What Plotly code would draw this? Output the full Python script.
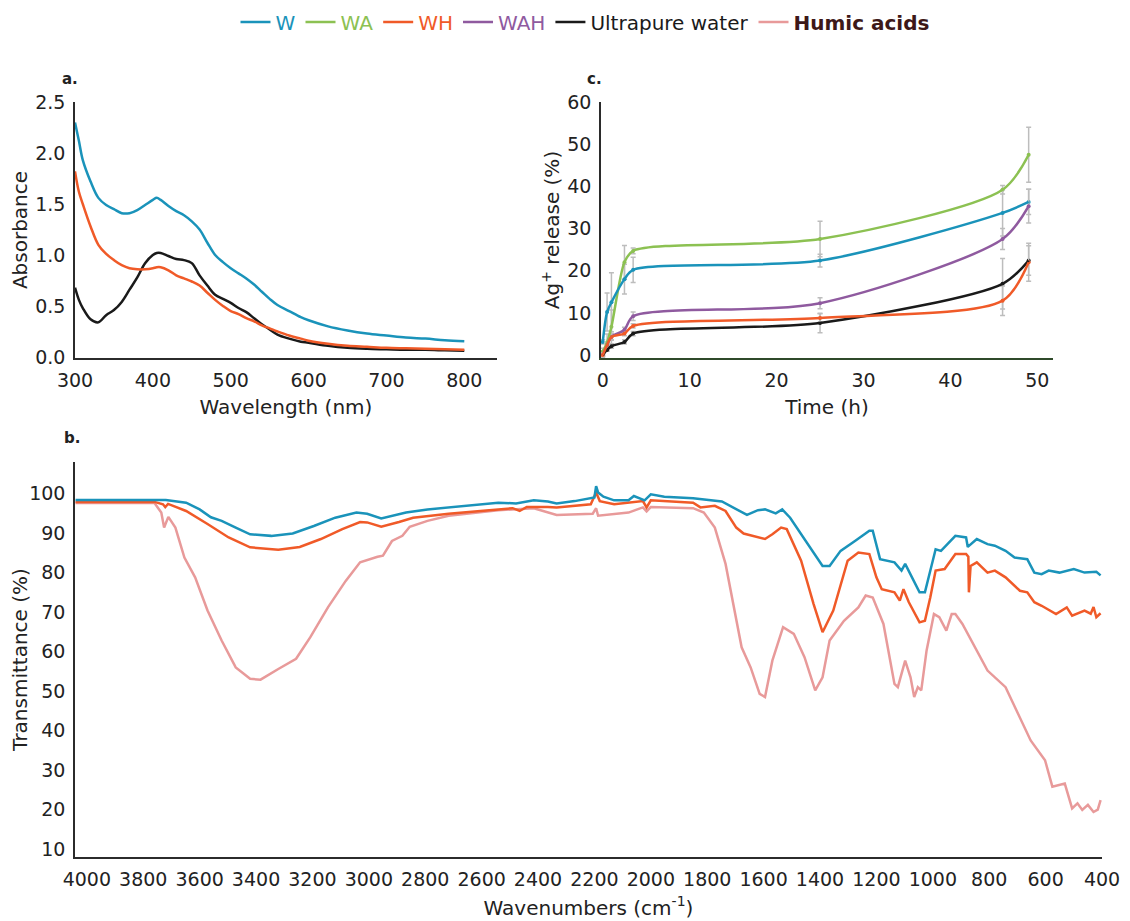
import plotly.graph_objects as go

# ---------------- Panel a: UV-vis absorbance ----------------
nm = [300, 305, 310, 320, 330, 340, 350, 360, 370, 380, 390, 400, 405, 410, 420, 430, 440, 450,
      460, 470, 480, 490, 500, 510, 520, 530, 540, 550, 560, 575, 590, 600, 625, 650, 675, 700,
      725, 750, 775, 800]
abs_W = [2.30, 2.12, 1.93, 1.72, 1.56, 1.49, 1.45, 1.41, 1.41, 1.44, 1.49, 1.54, 1.56, 1.54, 1.48,
         1.43, 1.39, 1.33, 1.25, 1.12, 1.00, 0.93, 0.87, 0.82, 0.77, 0.71, 0.64, 0.57, 0.51, 0.45,
         0.39, 0.36, 0.30, 0.26, 0.23, 0.21, 0.19, 0.18, 0.165, 0.155]
abs_WH = [1.82, 1.62, 1.50, 1.28, 1.10, 1.01, 0.95, 0.90, 0.87, 0.86, 0.86, 0.87, 0.88, 0.88, 0.85,
          0.80, 0.77, 0.74, 0.70, 0.63, 0.56, 0.50, 0.45, 0.42, 0.38, 0.35, 0.31, 0.28, 0.25, 0.21,
          0.18, 0.16, 0.13, 0.11, 0.10, 0.09, 0.085, 0.08, 0.075, 0.07]
abs_UW = [0.68, 0.56, 0.48, 0.37, 0.34, 0.41, 0.46, 0.54, 0.66, 0.78, 0.92, 1.00, 1.02, 1.02, 0.99,
          0.96, 0.95, 0.92, 0.80, 0.70, 0.61, 0.57, 0.53, 0.48, 0.44, 0.38, 0.32, 0.27, 0.22, 0.18,
          0.15, 0.14, 0.11, 0.09, 0.08, 0.075, 0.07, 0.07, 0.065, 0.06]

# ---------------- Panel c: Ag+ release ----------------
time_h = [0, 0.5, 1, 2.5, 3.5, 25, 46, 49]
rel_W = [3.1, 10.2, 12.5, 18.0, 20.2, 22.4, 33.7, 36.3]
rel_WA = [0.8, 3.0, 6.7, 22.0, 24.7, 27.5, 39.2, 47.5]
rel_WH = [0.0, 2.4, 4.3, 5.1, 6.9, 8.8, 12.9, 22.0]
rel_WAH = [0.0, 2.4, 4.3, 6.0, 9.2, 12.3, 27.5, 35.3]
rel_UW = [0.0, 1.2, 2.1, 3.1, 5.1, 7.6, 16.9, 22.4]
err_W = [0.5, 4.5, 7.0, 3.5, 3.0, 1.5, 5.5, 3.0]
err_WA = [0.8, 2.0, 4.0, 4.0, 0.7, 4.2, 1.0, 6.5]
err_WH = [0.3, 0.5, 0.7, 0.5, 0.5, 1.0, 3.5, 4.5]
err_WAH = [0.5, 0.5, 0.8, 0.6, 1.0, 1.3, 2.5, 4.0]
err_UW = [0.3, 0.3, 0.5, 0.5, 0.5, 2.3, 6.0, 3.5]

# ---------------- Panel b: FTIR transmittance ----------------
wn_W = [4040, 3800, 3720, 3648, 3600, 3560, 3522, 3472, 3421, 3346, 3270, 3195, 3119, 3044, 3006,
        2956, 2918, 2868, 2792, 2667, 2541, 2478, 2415, 2365, 2334, 2270, 2213, 2200, 2194, 2187,
        2168, 2130, 2079, 2060, 2022, 2000, 1952, 1850, 1748, 1697, 1659, 1620, 1595, 1557, 1534,
        1506, 1442, 1391, 1366, 1327, 1276, 1225, 1213, 1187, 1136, 1111, 1098, 1047, 1028, 990,
        971, 920, 882, 876, 844, 806, 780, 742, 710, 665, 640, 614, 589, 551, 500, 462, 420, 405]
T_W = [98.4, 98.4, 98.4, 97.7, 96.0, 94.0, 93.1, 91.4, 89.7, 89.3, 89.9, 91.8, 93.9, 95.2, 94.9,
       93.7, 94.4, 95.2, 96.0, 96.9, 97.7, 97.5, 98.3, 98.0, 97.5, 98.1, 98.8, 99.0, 101.9, 100.3,
       99.2, 98.3, 98.3, 99.4, 98.3, 99.8, 99.2, 98.8, 98.0, 96.0, 94.6, 95.8, 96.0, 95.0, 96.0,
       93.9, 87.2, 81.7, 81.7, 85.5, 88.0, 90.6, 90.6, 83.4, 82.6, 80.5, 82.2, 75.0, 75.0, 85.9,
       85.5, 89.3, 88.9, 86.5, 88.5, 87.2, 86.8, 85.5, 83.8, 83.4, 80.0, 79.6, 80.5, 80.0, 80.9,
       80.0, 80.2, 79.3]

wn_WH = [4040, 3760, 3730, 3722, 3712, 3648, 3572, 3497, 3421, 3321, 3245, 3170, 3094, 3031, 3006,
         2956, 2893, 2843, 2717, 2667, 2541, 2490, 2465, 2440, 2365, 2334, 2213, 2194, 2181, 2130,
         2028, 2015, 2000, 1850, 1824, 1773, 1735, 1697, 1671, 1620, 1595, 1569, 1538, 1518, 1467,
         1423, 1391, 1353, 1302, 1264, 1225, 1200, 1181, 1136, 1117, 1104, 1085, 1047, 1028, 1009,
         990, 958, 920, 882, 874, 872, 866, 844, 806, 780, 742, 691, 665, 640, 614, 563, 525, 506,
         462, 440, 430, 420, 405]
T_WH = [97.9, 97.9, 97.3, 96.6, 97.4, 95.6, 92.3, 88.9, 86.4, 85.8, 86.5, 88.5, 91.0, 92.8, 92.7,
        91.6, 92.8, 93.9, 94.9, 95.2, 96.0, 96.3, 95.6, 96.6, 96.6, 96.5, 97.3, 100.3, 98.1, 97.3,
        98.1, 96.5, 98.3, 97.7, 96.5, 96.9, 95.6, 91.4, 89.9, 88.9, 88.5, 89.7, 91.4, 91.0, 83.0,
        72.1, 64.9, 70.4, 83.0, 85.1, 84.7, 78.8, 75.8, 75.0, 72.9, 75.8, 72.5, 67.4, 67.8, 73.7,
        80.5, 80.9, 84.7, 84.7, 84.0, 75.0, 81.7, 82.6, 80.0, 80.5, 78.8, 75.4, 75.0, 72.5, 71.6,
        69.5, 71.2, 69.1, 70.4, 69.6, 71.3, 68.7, 69.7]

wn_HA = [4040, 3760, 3755, 3736, 3726, 3717, 3711, 3686, 3654, 3616, 3572, 3522, 3472, 3421, 3384,
         3321, 3258, 3208, 3145, 3082, 3031, 2969, 2950, 2918, 2881, 2855, 2792, 2717, 2667, 2541,
         2415, 2358, 2334, 2206, 2194, 2187, 2079, 2028, 2015, 2000, 1850, 1812, 1773, 1735, 1703,
         1678, 1646, 1614, 1595, 1569, 1531, 1493, 1455, 1417, 1391, 1366, 1315, 1264, 1238, 1213,
         1175, 1136, 1124, 1098, 1079, 1066, 1053, 1041, 1022, 996, 977, 952, 933, 920, 895, 844,
         806, 742, 704, 653, 602, 576, 532, 506, 487, 470, 450, 430, 415, 405]
T_HA = [97.6, 97.6, 97.1, 95.2, 91.4, 93.0, 94.1, 91.4, 83.8, 78.8, 70.4, 62.8, 56.0, 53.1, 52.9,
        55.6, 58.2, 63.6, 71.2, 77.9, 82.6, 84.0, 84.3, 88.0, 89.3, 91.6, 93.1, 94.4, 94.8, 95.8,
        96.3, 95.2, 94.6, 94.9, 96.3, 94.4, 95.2, 96.5, 95.5, 96.6, 96.3, 95.2, 91.4, 82.2, 70.4,
        61.1, 56.0, 49.3, 48.5, 57.7, 66.2, 64.5, 58.6, 50.2, 53.5, 62.8, 67.8, 71.2, 74.2, 73.7,
        67.0, 51.8, 51.0, 57.7, 53.5, 48.5, 51.0, 50.2, 60.3, 69.5, 68.7, 65.3, 69.5, 69.5, 67.0,
        60.3, 55.2, 51.0, 45.1, 37.5, 32.5, 25.8, 26.6, 20.3, 21.6, 19.9, 21.2, 19.4, 20.0, 22.4]
wn_ticks = [4000, 3800, 3600, 3400, 3200, 3000, 2800, 2600, 2400, 2200, 2000, 1800, 1600, 1400,
            1200, 1000, 800, 600, 400]

# ---------------- Styles ----------------
C_W = "#1a93ba"
C_WA = "#8cc152"
C_WH = "#f05a28"
C_WAH = "#8f5a9f"
C_UW = "#1a1a1a"
C_HA = "#e89a9a"
C_ERR = "#bdbdbd"
FONT = "DejaVu Sans"
AX = "#2b2b2b"


def lab(text, color):
    return f"<span style='color:{color}'>{text}</span>"


fig = go.Figure()

# Panel a traces
fig.add_trace(go.Scatter(x=nm, y=abs_UW, mode="lines", line=dict(color=C_UW, width=2.5, shape="spline"),
                         name=lab("Ultrapure water", "#1a1a1a"), legendrank=5, xaxis="x", yaxis="y"))
fig.add_trace(go.Scatter(x=nm, y=abs_WH, mode="lines", line=dict(color=C_WH, width=2.5, shape="spline"),
                         name=lab("WH", C_WH), legendrank=3, xaxis="x", yaxis="y"))
fig.add_trace(go.Scatter(x=nm, y=abs_W, mode="lines", line=dict(color=C_W, width=2.5, shape="spline"),
                         name=lab("W", C_W), legendrank=1, xaxis="x", yaxis="y"))

# Panel c traces: error bars + points, then smooth lines
series_c = [
    ("WA", rel_WA, err_WA, C_WA, True, 2),
    ("W", rel_W, err_W, C_W, False, 1),
    ("WAH", rel_WAH, err_WAH, C_WAH, True, 4),
    ("Ultrapure water", rel_UW, err_UW, C_UW, False, 5),
    ("WH", rel_WH, err_WH, C_WH, False, 3),
]
for name, vals, errs, col, show, rank in series_c:
    fig.add_trace(go.Scatter(x=time_h, y=vals, mode="markers",
                             marker=dict(color=col, size=4),
                             error_y=dict(type="data", array=errs, visible=True, color=C_ERR,
                                          thickness=1.5, width=2.5),
                             showlegend=False, xaxis="x2", yaxis="y2"))
for name, vals, errs, col, show, rank in series_c:
    fig.add_trace(go.Scatter(x=time_h, y=vals, mode="lines",
                             line=dict(color=col, width=2.5, shape="spline", smoothing=0.8),
                             name=lab(name, col), showlegend=show, legendrank=rank,
                             xaxis="x2", yaxis="y2"))

# Panel b traces
fig.add_trace(go.Scatter(x=wn_HA, y=T_HA, mode="lines", line=dict(color=C_HA, width=2.5),
                         name=lab("<b>Humic acids</b>", "#3d1818"), legendrank=6, xaxis="x3", yaxis="y3"))
fig.add_trace(go.Scatter(x=wn_WH, y=T_WH, mode="lines", line=dict(color=C_WH, width=2.5),
                         showlegend=False, xaxis="x3", yaxis="y3"))
fig.add_trace(go.Scatter(x=wn_W, y=T_W, mode="lines", line=dict(color=C_W, width=2.5),
                         showlegend=False, xaxis="x3", yaxis="y3"))

# page has an 8px body margin: figure fills the rest of the 1130x921 window
OFF = 8
W, H = 1130 - OFF, 921 - OFF


def dx(a, b):
    return [(a - OFF) / W, (b - OFF) / W]


def dy(top, bottom):
    return [1 - (bottom - OFF) / H, 1 - (top - OFF) / H]


def px(x):
    return (x - OFF) / W


def py(y):
    return 1 - (y - OFF) / H


tickf = dict(family=FONT, size=19, color="#222")
titlef = dict(family=FONT, size=20, color="#222")
common = dict(showgrid=False, zeroline=False, showline=True, linecolor=AX, linewidth=1.5,
              ticks="", tickfont=tickf, ticklabelstandoff=4, automargin=False)

fig.update_layout(
    template="none",
    width=W, height=H,
    margin=dict(l=0, r=0, t=0, b=0, autoexpand=False),
    paper_bgcolor="white", plot_bgcolor="white",
    font=dict(family=FONT, size=18, color="#222"),
    showlegend=True,
    legend=dict(orientation="h", x=px(585), xanchor="center", y=py(22), yanchor="middle",
                font=dict(family=FONT, size=20), itemwidth=30, bgcolor="rgba(0,0,0,0)"),
    xaxis=dict(domain=dx(75, 497), range=[300, 842], tickvals=[300, 400, 500, 600, 700, 800],
               title=dict(text="Wavelength (nm)", font=titlef, standoff=10), anchor="y", **common),
    yaxis=dict(domain=dy(102, 358), range=[-0.01, 2.5], tickvals=[0, 0.5, 1, 1.5, 2, 2.5],
               tickformat=".1f", title=dict(text="Absorbance", font=titlef, standoff=8),
               anchor="x", **common),
    xaxis2=dict(domain=dx(601, 1053), range=[-0.2, 51.8], tickvals=[0, 10, 20, 30, 40, 50],
                title=dict(text="Time (h)", font=titlef, standoff=10), anchor="y2",
                **{**common, "linecolor": "#2f4a2a"}),
    yaxis2=dict(domain=dy(102, 358), range=[-0.7, 60], tickvals=[0, 10, 20, 30, 40, 50, 60],
                title=dict(text="Ag<sup>+</sup> release (%)", font=titlef, standoff=2),
                anchor="x2", **common),
    xaxis3=dict(domain=dx(75, 1102), range=[4042, 400], tickvals=wn_ticks,
                title=dict(text="Wavenumbers (cm<sup>-1</sup>)", font=titlef, standoff=12),
                anchor="y3", **common),
    yaxis3=dict(domain=dy(462, 857), range=[8, 108], tickvals=[10, 20, 30, 40, 50, 60, 70, 80, 90, 100],
                title=dict(text="Transmittance (%)", font=titlef, standoff=8),
                anchor="x3", **common),
    annotations=[
        dict(text="<b>a.</b>", x=px(60), y=py(68), xref="paper", yref="paper", showarrow=False,
             font=dict(family=FONT, size=15, color="#222")),
        dict(text="<b>c.</b>", x=px(594), y=py(68), xref="paper", yref="paper", showarrow=False,
             font=dict(family=FONT, size=15, color="#222")),
        dict(text="<b>b.</b>", x=px(62), y=py(438), xref="paper", yref="paper", showarrow=False,
             font=dict(family=FONT, size=15, color="#222")),
    ],
)

fig.write_html("out.html")
